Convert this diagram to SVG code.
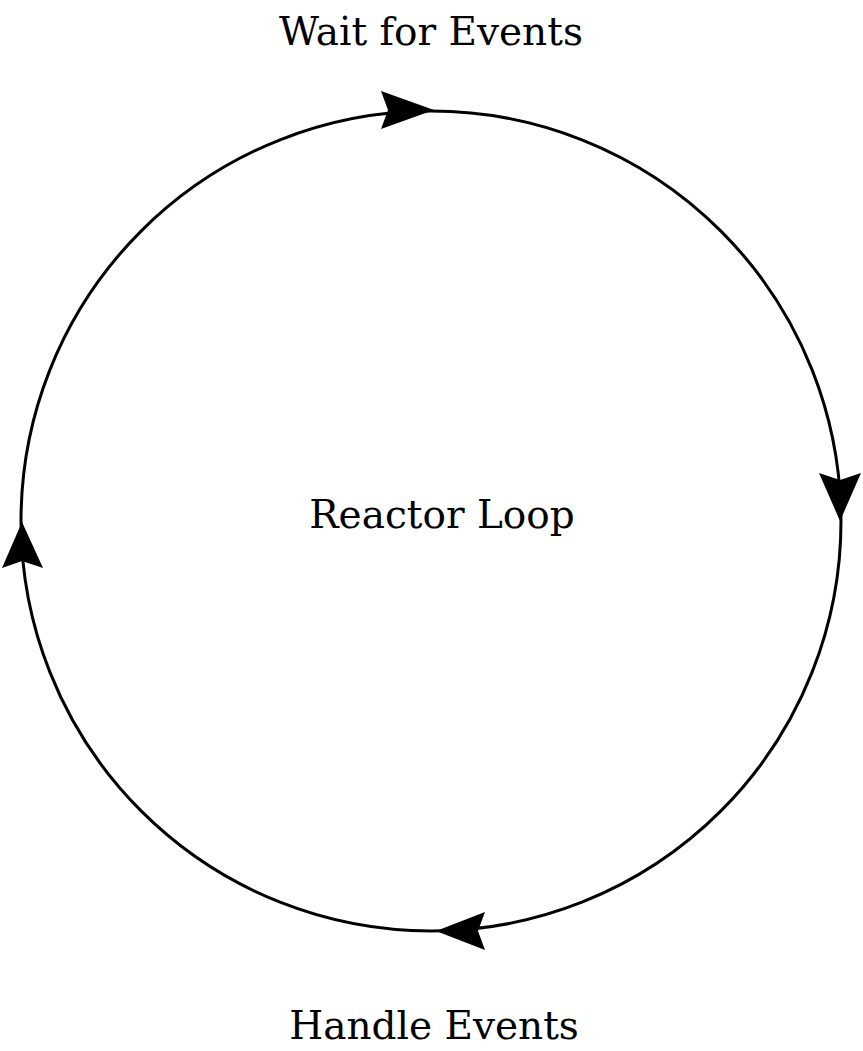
<svg xmlns="http://www.w3.org/2000/svg" width="863" height="1051" viewBox="0 0 863 1051">
<style>
.lbl{font-family:"DejaVu Serif","Liberation Serif",serif;font-size:39px;fill:#000;text-anchor:middle}
.loop{fill:none;stroke:#000;stroke-width:3}
.ah{fill:#000}
</style>
<rect width="863" height="1051" fill="#fff"/>
<g id="connectors">
<circle class="loop" cx="431" cy="521" r="410"/>
<polygon class="ah" points="434,110 381,91 388,110 381,129"/>
<polygon class="ah" points="840,521 819,473 840,480 861,473"/>
<polygon class="ah" points="436,931 485,912 478,931 485,950"/>
<polygon class="ah" points="22,522 2,568 22,561 43,568"/>
</g>
<g id="wait"><text class="lbl" x="431" y="45">Wait for Events</text></g>
<g id="reactor"><text class="lbl" x="442" y="528">Reactor Loop</text></g>
<g id="handle"><text class="lbl" x="434" y="1039">Handle Events</text></g>
</svg>
